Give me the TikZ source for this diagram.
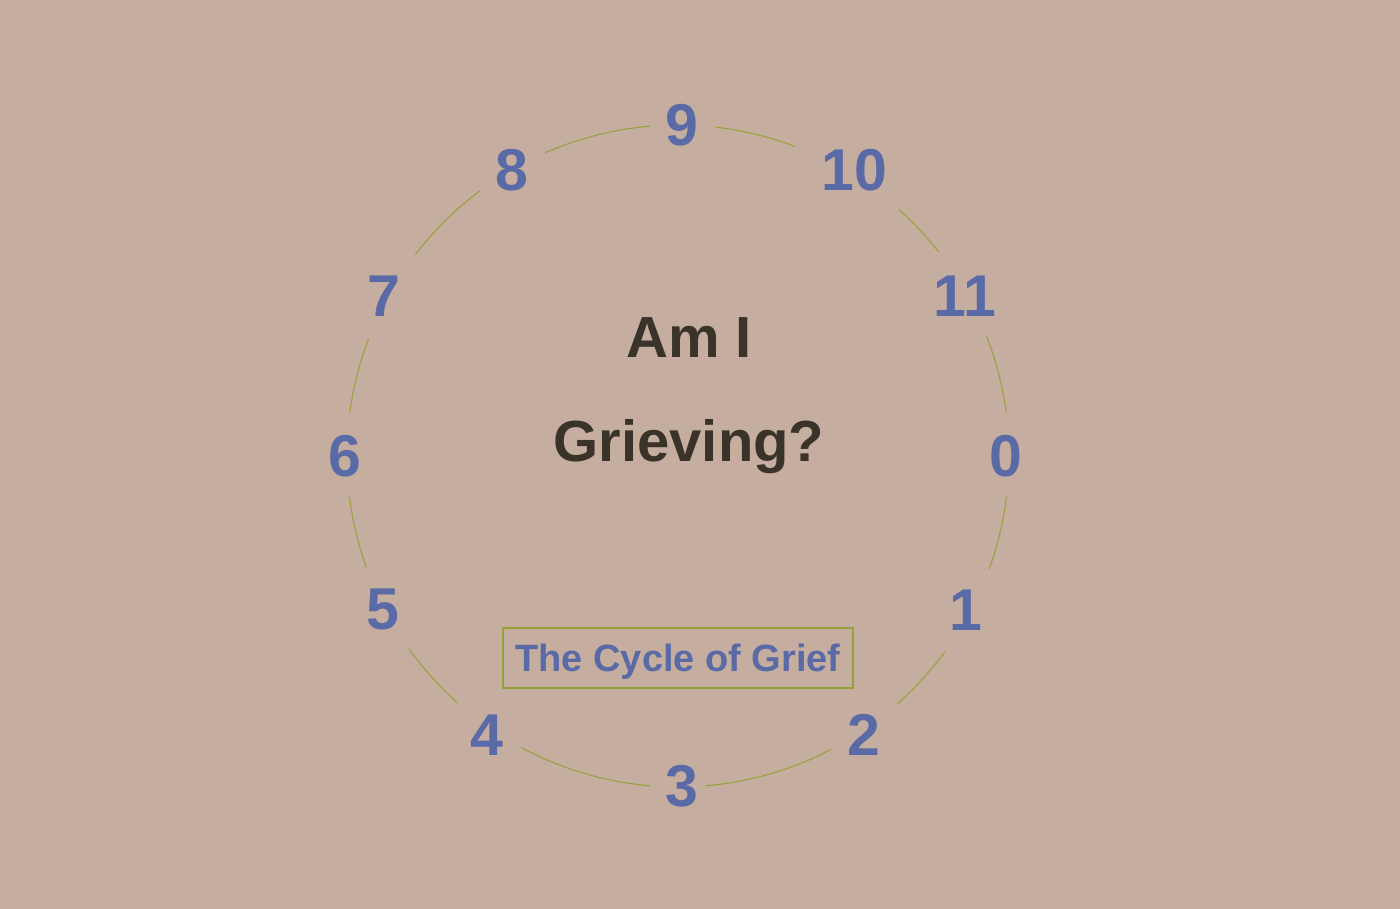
\documentclass[tikz,border=0pt]{standalone}
\usepackage{fontspec}
\setmainfont{Liberation Sans}
\usepackage{tikz}
\usetikzlibrary{positioning}
\definecolor{paper}{HTML}{C5AD9F}
\definecolor{blue}{HTML}{5A6AA6}
\definecolor{ink}{HTML}{3A3329}
\definecolor{olive}{HTML}{94A236}
\tikzstyle{stage} = [text=blue, inner sep=0pt, font=\bfseries\fontsize{59}{59}\selectfont]
\tikzstyle{question} = [text=ink, inner sep=0pt, anchor=base, font=\bfseries\fontsize{58}{58}\selectfont]
\tikzstyle{caption} = [draw=olive, line width=1.4pt, text=blue, inner sep=0pt, text height=28pt, text depth=0pt, minimum width=350pt, minimum height=60pt, font=\bfseries\fontsize{38}{38}\selectfont]
\tikzstyle{tarc} = [draw=olive, line width=1pt]
\begin{document}
\begin{tikzpicture}[x=1pt, y=1pt]

\fill[paper] (0,0) rectangle (1400,909);
\coordinate (centre) at (678,453);

% stages =============================

\node[stage] (s0) at (1006,453) {0};
\node[stage] (s1) at (966,299) {1};
\node[stage] (s2) at (864,174) {2};
\node[stage] (s3) at (682,123) {3};
\node[stage] (s4) at (487,174) {4};
\node[stage] (s5) at (383,299) {5};
\node[stage] (s6) at (345,453) {6};
\node[stage] (s7) at (384,613) {7};
\node[stage] (s8) at (512,739) {8};
\node[stage] (s9) at (682,784) {9};
\node[stage] (s10) at (854,739) {10};
\node[stage] (s11) at (965,613) {11};

% question
\node[question] (ami) at (689,551) {Am I};
\node[question] (grieving) at ([yshift=-104pt]ami.base) {Grieving?};

% caption
\node[caption] (cycle) at (678,251) {The Cycle of Grief};

% ring
\foreach \a/\b in {7.5/21.3, 38/48.2, 69.3/83.4, 94.8/113.6, 126.7/142.5, 159.2/172.5,
                   187.1/199.6, 215.6/228.1, 241.7/265.2, 274.8/297.5, 311.5/323.7, 340/352.9}
  \draw[tarc] ([shift={(\a:331)}]centre) arc[start angle=\a, end angle=\b, radius=331pt];

\end{tikzpicture}
\end{document}
